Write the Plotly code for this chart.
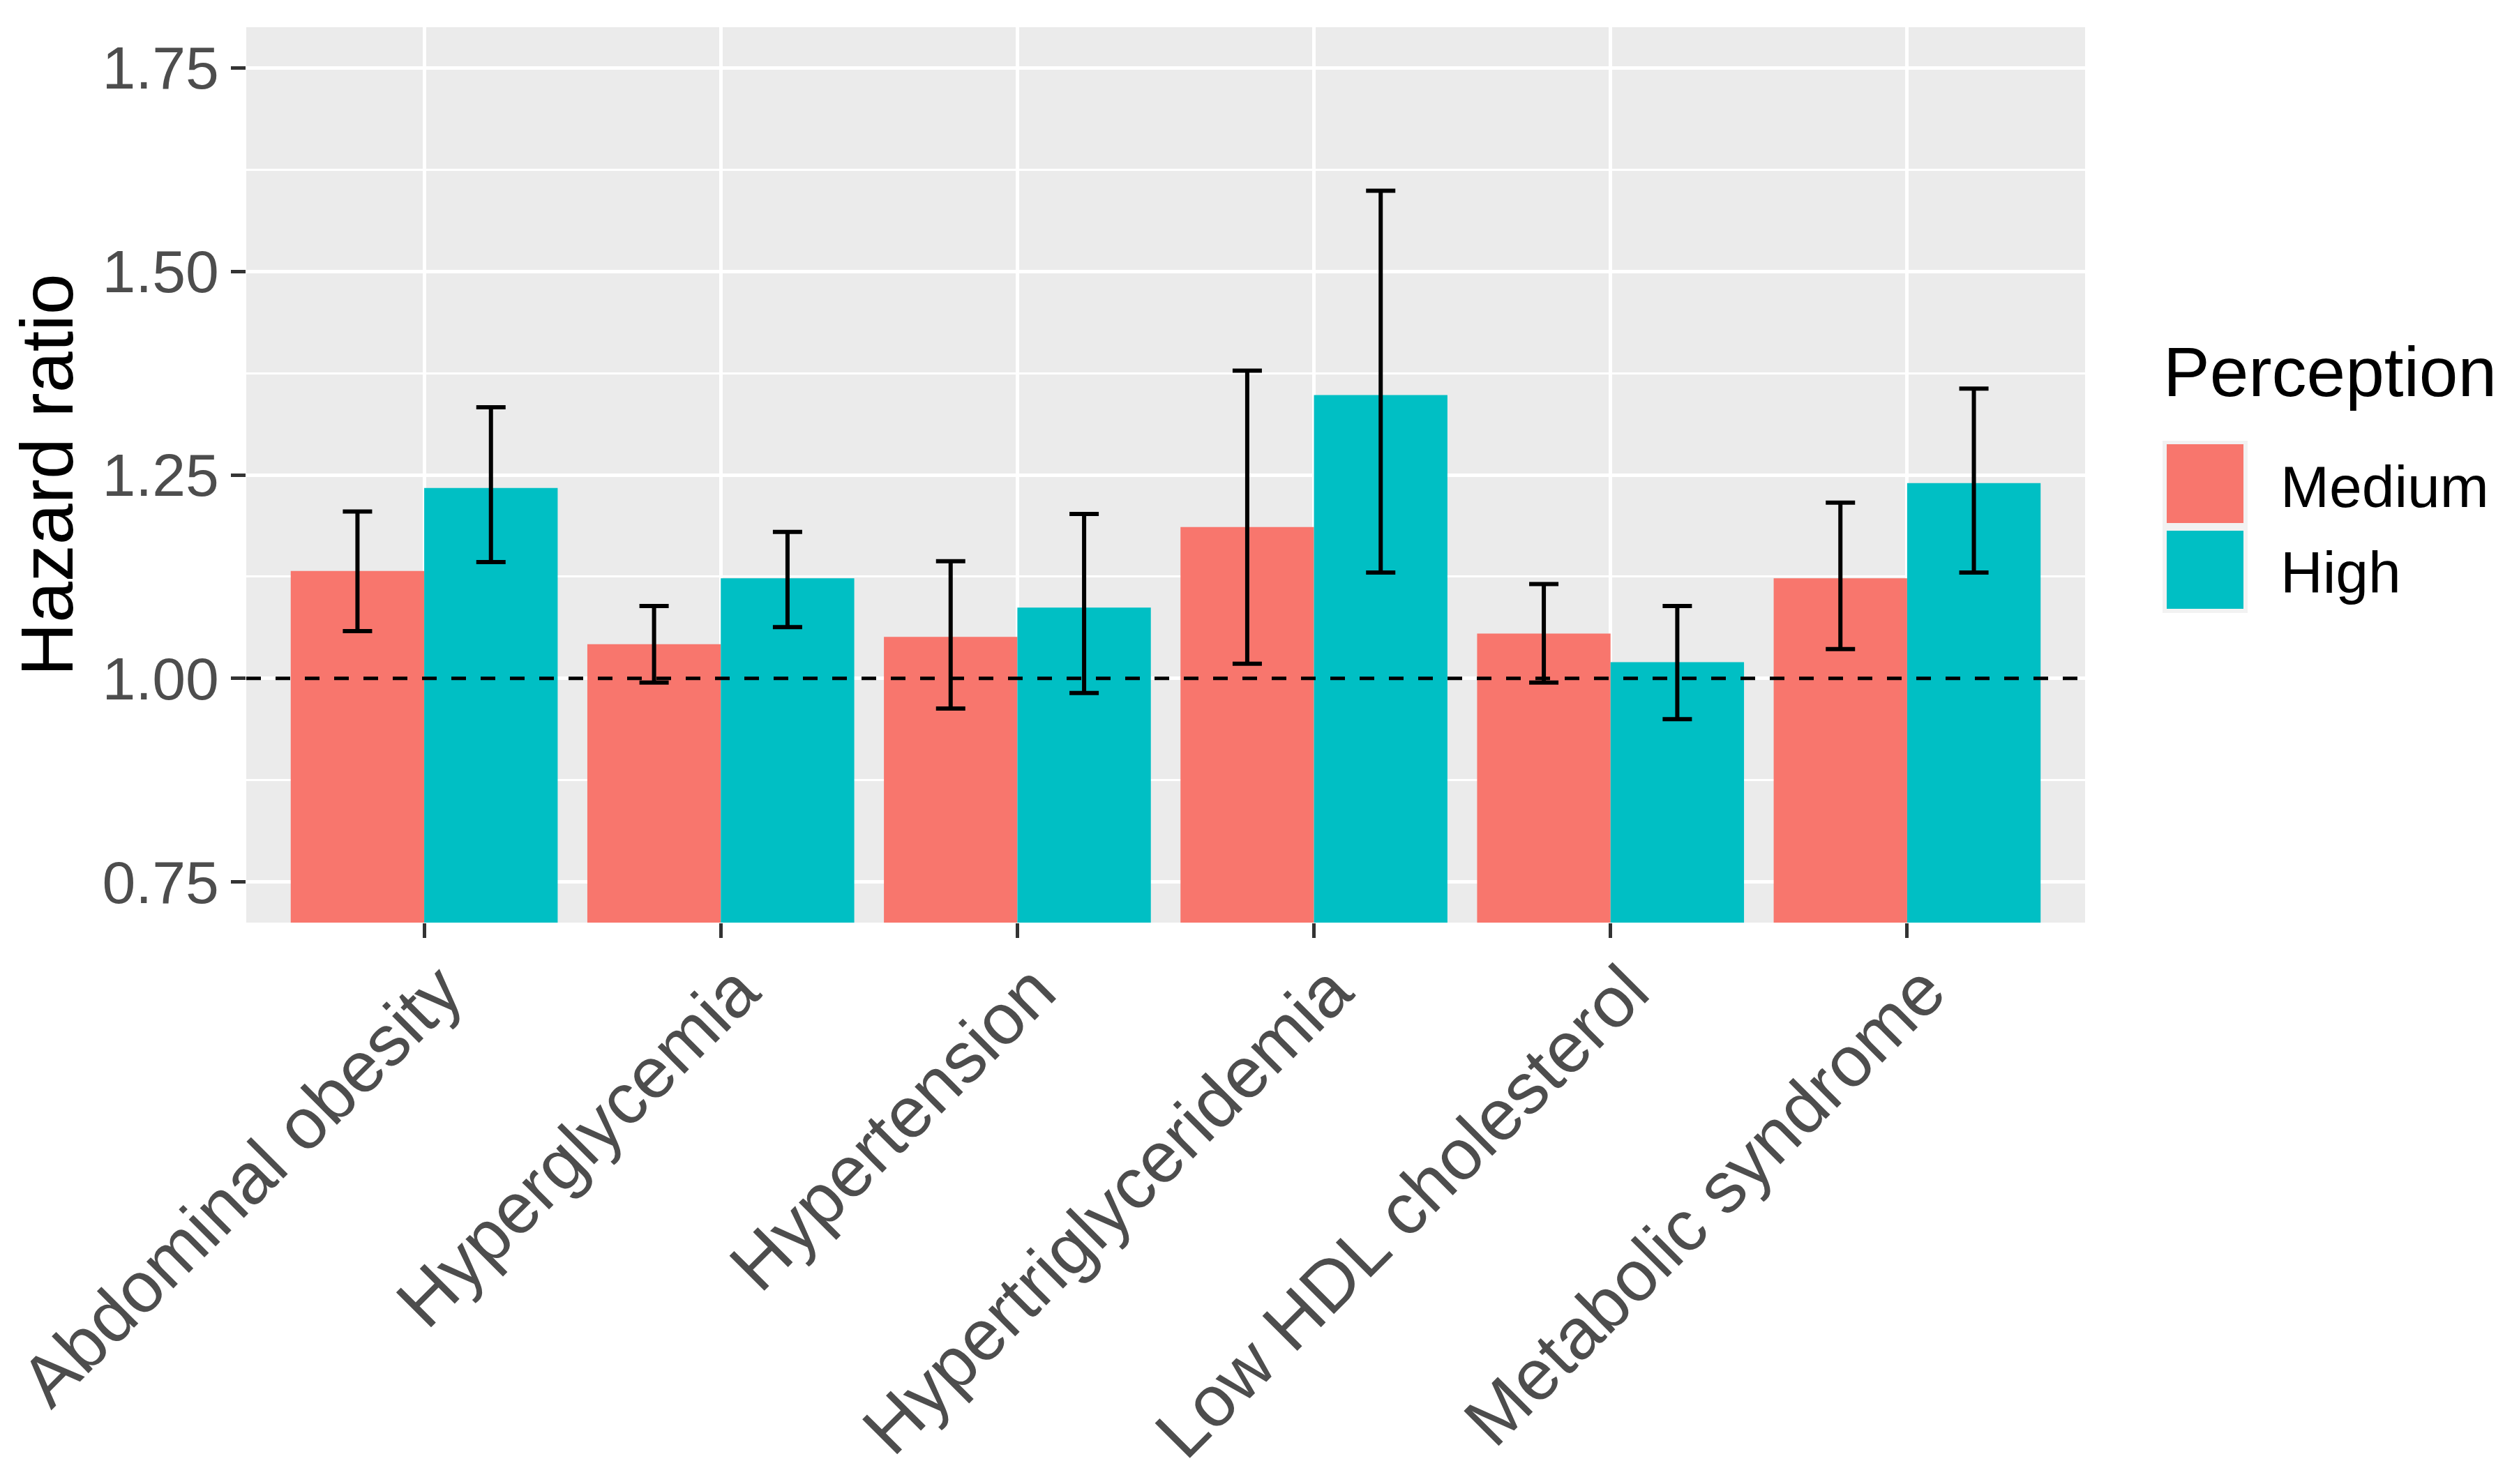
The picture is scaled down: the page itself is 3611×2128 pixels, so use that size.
import plotly.graph_objects as go

categories = ["Abdominal obesity", "Hyperglycemia", "Hypertension",
              "Hypertriglyceridemia", "Low HDL cholesterol", "Metabolic syndrome"]
groups = ["Medium", "High"]

medium_hr = [1.132, 1.042, 1.051, 1.186, 1.055, 1.123]
medium_lo = [1.058, 0.995, 0.963, 1.018, 0.995, 1.036]
medium_hi = [1.205, 1.089, 1.144, 1.378, 1.116, 1.216]

high_hr = [1.234, 1.123, 1.087, 1.348, 1.020, 1.240]
high_lo = [1.143, 1.063, 0.982, 1.130, 0.950, 1.130]
high_hi = [1.333, 1.180, 1.202, 1.599, 1.089, 1.356]

y_ticks = [0.75, 1.00, 1.25, 1.50, 1.75]
y_tick_labels = ["0.75", "1.00", "1.25", "1.50", "1.75"]

colors = {"Medium": "#F8766D", "High": "#00BFC4"}

W, H = 3611, 2128
L, R, T, B = 345, 630, 31, 813
PW = W - L - R
PH = H - T - B

FONT = "Liberation Sans, Arial, sans-serif"

fig = go.Figure()
for name, hr, lo, hi in [("Medium", medium_hr, medium_lo, medium_hi),
                         ("High", high_hr, high_lo, high_hi)]:
    fig.add_trace(go.Bar(
        x=categories, y=hr, name=name,
        marker=dict(color=colors[name], line=dict(width=0)),
        error_y=dict(type="data", symmetric=False,
                     array=[h - v for h, v in zip(hi, hr)],
                     arrayminus=[v - l for v, l in zip(hr, lo)],
                     color="black", thickness=6, width=21),
        showlegend=False,
    ))

fig.add_hline(y=1.0, line=dict(color="black", width=5, dash="21px,21px"))

# Legend (drawn manually to mimic ggplot's key boxes)
def px_x(x):
    return (x - L) / PW

def px_y(y):
    return (H - B - y) / PH

shapes = [
    dict(type="rect", xref="paper", yref="paper",
         x0=px_x(3092), x1=px_x(3214), y0=px_y(871), y1=px_y(624),
         fillcolor="#F2F2F2", line=dict(width=0), layer="above"),
    dict(type="rect", xref="paper", yref="paper",
         x0=px_x(3098), x1=px_x(3208), y0=px_y(742), y1=px_y(629),
         fillcolor=colors["Medium"], line=dict(width=0), layer="above"),
    dict(type="rect", xref="paper", yref="paper",
         x0=px_x(3098), x1=px_x(3208), y0=px_y(865), y1=px_y(753),
         fillcolor=colors["High"], line=dict(width=0), layer="above"),
]
for s in shapes:
    fig.add_shape(**s)

fig.add_annotation(text="Perception", xref="paper", yref="paper",
                   x=px_x(3091), y=px_y(525), xanchor="left", yanchor="middle",
                   showarrow=False, font=dict(family=FONT, size=100, color="black"))
fig.add_annotation(text="Medium", xref="paper", yref="paper",
                   x=px_x(3259), y=px_y(690), xanchor="left", yanchor="middle",
                   showarrow=False, font=dict(family=FONT, size=84, color="black"))
fig.add_annotation(text="High", xref="paper", yref="paper",
                   x=px_x(3259), y=px_y(813), xanchor="left", yanchor="middle",
                   showarrow=False, font=dict(family=FONT, size=84, color="black"))

fig.update_layout(
    width=W, height=H,
    margin=dict(l=L, r=R, t=T, b=B, autoexpand=False),
    paper_bgcolor="white",
    plot_bgcolor="#EBEBEB",
    barmode="group",
    bargap=0.1,
    bargroupgap=0,
    font=dict(family=FONT),
)

fig.update_xaxes(
    range=[-0.6, 5.6],
    showgrid=True, gridcolor="white", gridwidth=5,
    ticks="outside", ticklen=21, tickwidth=5, tickcolor="#333333",
    tickangle=-45,
    ticklabelshift=24, ticklabelstandoff=-26,
    tickfont=dict(family=FONT, size=103, color="#4D4D4D"),
    zeroline=False, showline=False,
)

fig.update_yaxes(
    range=[0.70, 1.80],
    tickmode="array", tickvals=y_ticks, ticktext=y_tick_labels,
    showgrid=True, gridcolor="white", gridwidth=5,
    minor=dict(tickmode="linear", tick0=0.875, dtick=0.25,
               showgrid=True, gridcolor="white", gridwidth=2.5, ticks=""),
    ticks="outside", ticklen=21, tickwidth=5, tickcolor="#333333",
    tickfont=dict(family=FONT, size=86, color="#4D4D4D"),
    title=dict(text="Hazard ratio", font=dict(family=FONT, size=106, color="black"),
               standoff=28),
    zeroline=False, showline=False,
)

fig.write_html("out.html")
